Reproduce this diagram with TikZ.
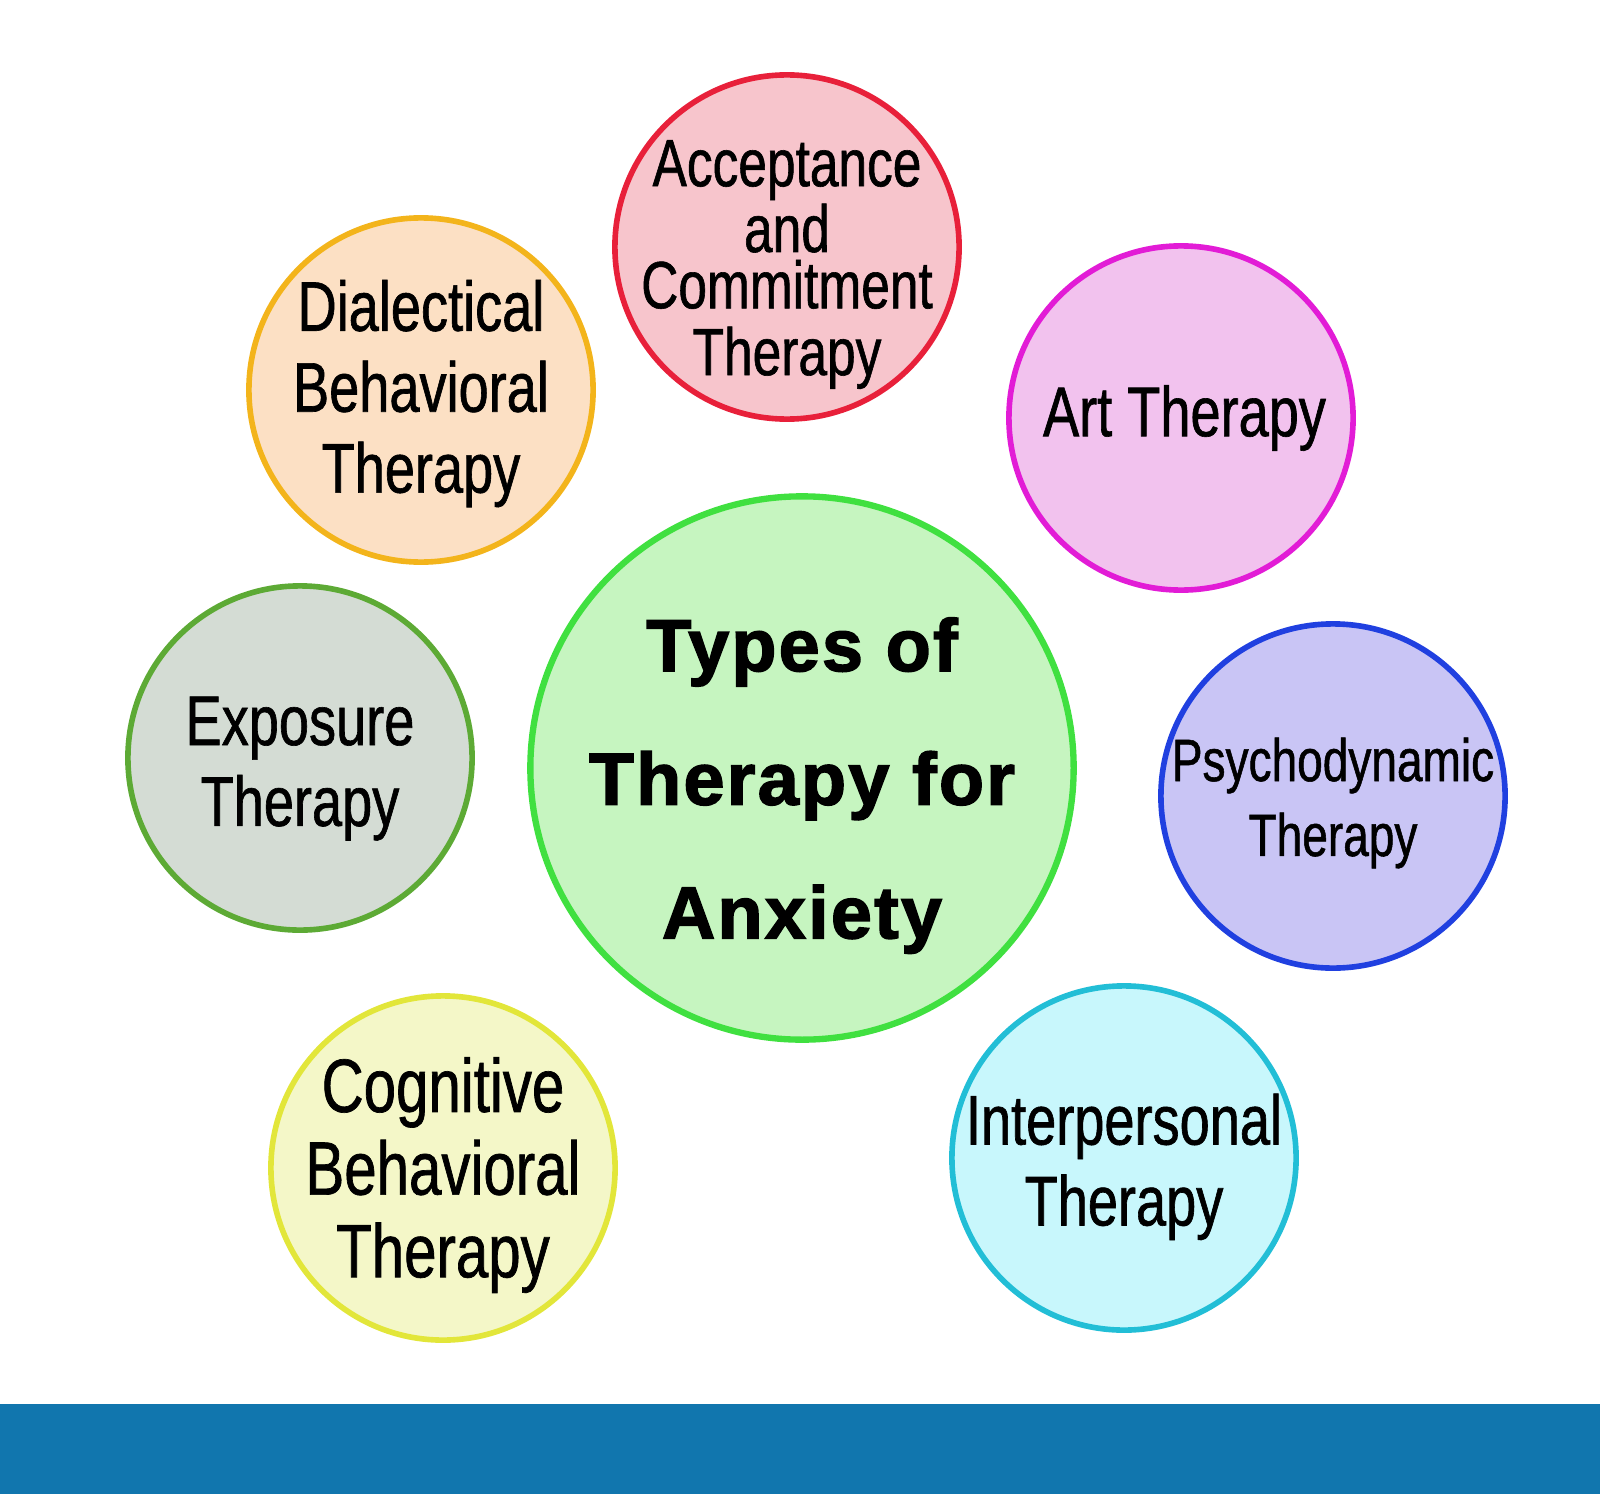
\documentclass[tikz,border=0pt]{standalone}
\usepackage{fontspec}
\setmainfont{Liberation Sans}
\newfontfamily\narrowfont[FakeStretch=0.77,FakeBold=0.9]{Liberation Sans}
\newfontfamily\headfont[FakeBold=2,LetterSpace=3]{Liberation Sans Bold}

\definecolor{mainline}{HTML}{40E040}\definecolor{mainfill}{HTML}{C6F5C0}
\definecolor{actline}{HTML}{E8203A}\definecolor{actfill}{HTML}{F7C5CC}
\definecolor{dbtline}{HTML}{F3B41B}\definecolor{dbtfill}{HTML}{FCE0C4}
\definecolor{artline}{HTML}{E21CD6}\definecolor{artfill}{HTML}{F2C2EE}
\definecolor{expline}{HTML}{5DAA35}\definecolor{expfill}{HTML}{D4DCD4}
\definecolor{psyline}{HTML}{2040E0}\definecolor{psyfill}{HTML}{C9C5F5}
\definecolor{cbtline}{HTML}{E2E63A}\definecolor{cbtfill}{HTML}{F4F7C8}
\definecolor{iptline}{HTML}{22BED6}\definecolor{iptfill}{HTML}{C8F7FC}
\definecolor{banner}{HTML}{1176AE}

\begin{document}
\begin{tikzpicture}[x=0.01cm, y=-0.01cm,
            bubble/.style = {circle, draw=#1line, fill=#1fill, line width=1.6pt,
                             minimum size=3.44cm, inner sep=0pt},
            words/.style = {align=center, inner sep=0pt,
                            font=\narrowfont\fontsize{20}{23}\selectfont}]
            \useasboundingbox (0,0) rectangle (1600,1494);
            \fill[banner] (0,1404) rectangle (1600,1494);

            % centre
            \node[bubble=main, minimum size=5.43cm, line width=1.8pt] (main) at (802,768) {};
            \node[words, yshift=-5pt, font=\headfont\fontsize{21}{38}\selectfont] (main-txt) at (main)
                {Types of\\Therapy for\\Anxiety};

            % round it
            \node[bubble=act] (act) at (787,247) {};
            \node[words, yshift=-5pt, font=\narrowfont\fontsize{19}{16}\selectfont] (act-txt) at (act)
                {Acceptance\\and\\Commitment\\[3pt]Therapy};
            \node[bubble=dbt] (dbt) at (421,390) {};
            \node[words, yshift=-1pt] (dbt-txt) at (dbt) {Dialectical\\Behavioral\\Therapy};
            \node[bubble=art] (art) at (1181,418) {};
            \node[words, xshift=1pt] (art-txt) at (art) {Art Therapy};
            \node[bubble=exp] (exp) at (300,758) {};
            \node[words, yshift=-3pt] (exp-txt) at (exp) {Exposure\\Therapy};
            \node[bubble=psy] (psy) at (1333,796) {};
            \node[words, yshift=-2pt, font=\narrowfont\fontsize{17}{21.3}\selectfont] (psy-txt) at (psy)
                {Psychodynamic\\Therapy};
            \node[bubble=cbt] (cbt) at (443,1168) {};
            \node[words, yshift=-2pt, font=\narrowfont\fontsize{21.5}{23.5}\selectfont] (cbt-txt) at (cbt)
                {Cognitive\\Behavioral\\Therapy};
            \node[bubble=ipt] (ipt) at (1124,1158) {};
            \node[words, yshift=-2.5pt] (ipt-txt) at (ipt) {Interpersonal\\Therapy};
\end{tikzpicture}
\end{document}
